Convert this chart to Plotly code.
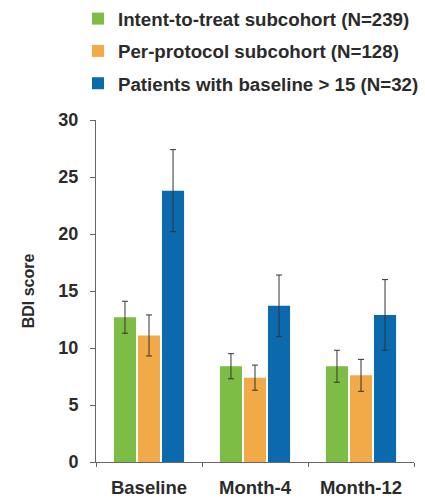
import plotly.graph_objects as go

categories = ["Baseline", "Month-4", "Month-12"]
series_names = [
    "Intent-to-treat subcohort (N=239)",
    "Per-protocol subcohort (N=128)",
    "Patients with baseline > 15 (N=32)",
]
itt_mean = [12.7, 8.4, 8.4]
itt_err = [1.4, 1.1, 1.4]
pp_mean = [11.1, 7.4, 7.6]
pp_err = [1.8, 1.1, 1.4]
b15_mean = [23.8, 13.7, 12.9]
b15_err = [3.6, 2.7, 3.1]
y_ticks = [0, 5, 10, 15, 20, 25, 30]

colors = ["#7dbd45", "#f2a947", "#0b6aae"]
means = [itt_mean, pp_mean, b15_mean]
errs = [itt_err, pp_err, b15_err]

fig = go.Figure()
for i, (name, m, e) in enumerate(zip(series_names, means, errs)):
    fig.add_trace(go.Bar(
        x=categories, y=m, name=name, legendgroup=f"g{i}",
        marker=dict(color=colors[i], line=dict(width=0)),
        error_y=dict(type="data", array=e, visible=True, color="#333333",
                     thickness=1, width=3),
    ))

font_family = "Liberation Sans, Arial, sans-serif"
fig.update_layout(
    width=425, height=501,
    margin=dict(l=96, r=11, t=120, b=39, autoexpand=False),
    paper_bgcolor="white", plot_bgcolor="white",
    barmode="group", bargap=0.32, bargroupgap=0.08,
    font=dict(family=font_family, size=18, color="#2b2b2b"),
    showlegend=True,
    legend=dict(
        x=-0.0566, y=1.351,
        xanchor="left", yanchor="top",
        font=dict(family=font_family, size=18.7, color="#2b2b2b", weight="bold"),
        tracegroupgap=5, bgcolor="rgba(0,0,0,0)",
    ),
    xaxis=dict(
        showline=True, linecolor="#666666", linewidth=1,
        ticks="outside", tickson="boundaries", ticklen=4, tickcolor="#666666",
        tickangle=0, ticklabelstandoff=9,
        tickfont=dict(size=18.5, weight="bold", color="#2b2b2b"),
        showgrid=False, zeroline=False,
    ),
    yaxis=dict(
        range=[0, 30], tickvals=y_ticks,
        showline=True, linecolor="#666666", linewidth=1,
        ticks="outside", ticklen=5, tickcolor="#666666", ticklabelstandoff=8,
        tickfont=dict(size=18, weight="bold", color="#2b2b2b"),
        showgrid=False, zeroline=False,
        title=dict(text="BDI score", font=dict(size=16, weight="bold", color="#2b2b2b"), standoff=19),
    ),
)

fig.write_html("out.html")
